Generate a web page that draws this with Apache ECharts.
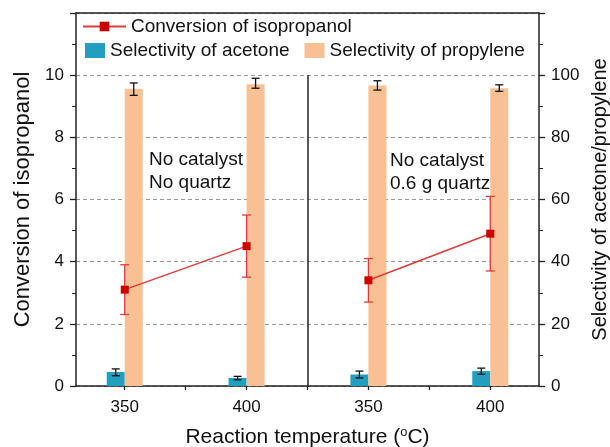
<!DOCTYPE html>
<html>
<head>
<meta charset="utf-8">
<script src="https://cdn.jsdelivr.net/npm/echarts@6/dist/echarts.min.js"></script>
<style>
  html, body { margin: 0; padding: 0; background: #fff; }
  #main { width: 610px; height: 447px; }
</style>
</head>
<body>
<div id="main"></div>
<script>
// x positions of the four runs and their temperature labels
var positions = [0, 1, 2, 3]
var tempLabels = ['350', '400', '350', '400']

// conversion of isopropanol (left axis) with error range
var conversion = [3.1, 4.5, 3.4, 4.9]
var conversionLow = [2.3, 3.5, 2.7, 3.7]
var conversionHigh = [3.9, 5.5, 4.1, 6.1]

// selectivities (right axis) with error range
var acetone = [4.5, 2.6, 3.7, 4.8]
var acetoneLow = [3.3, 2.0, 2.6, 3.8]
var acetoneHigh = [5.5, 3.1, 4.8, 5.75]
var propylene = [95.6, 97.1, 96.7, 95.8]
var propyleneLow = [93.5, 95.8, 95.2, 94.8]
var propyleneHigh = [97.5, 99.0, 98.2, 96.9]

var FONT = 'Liberation Sans'
var AXIS = '#222'

function pairs(ys, idx) {
    return idx.map(function (i) { return [positions[i], ys[i]] })
}
function errData(lo, hi) {
    return positions.map(function (x, i) { return [x, lo[i], hi[i]] })
}

// draws a vertical error bar with caps, shifted by dx pixels
function errorBar(dx, color, cap) {
    return function (params, api) {
        var x = api.value(0)
        var lo = api.coord([x, api.value(1)])
        var hi = api.coord([x, api.value(2)])
        var cx = lo[0] + dx
        var style = { stroke: color, lineWidth: 1.3 }
        return {
            type: 'group',
            children: [
                { type: 'line', shape: { x1: cx, y1: lo[1], x2: cx, y2: hi[1] }, style: style },
                { type: 'line', shape: { x1: cx - cap, y1: lo[1], x2: cx + cap, y2: lo[1] }, style: style },
                { type: 'line', shape: { x1: cx - cap, y1: hi[1], x2: cx + cap, y2: hi[1] }, style: style }
            ]
        }
    }
}

var chart = echarts.init(document.getElementById('main'))

chart.setOption({
    animation: false,
    textStyle: { fontFamily: FONT },
    grid: { left: 76, right: 71, top: 13, bottom: 61, outerBoundsMode: 'none', containLabel: false },
    legend: [
        {
            data: ['Conversion of isopropanol'],
            left: 82, top: 17, padding: 0,
            itemWidth: 43, itemHeight: 12,
            textStyle: { fontSize: 19, color: '#111', fontFamily: FONT }
        },
        {
            data: ['Selectivity of acetone', 'Selectivity of propylene'],
            left: 85, top: 41, padding: 0,
            icon: 'rect',
            itemWidth: 20, itemHeight: 15, itemGap: 15,
            textStyle: { fontSize: 19, color: '#111', fontFamily: FONT }
        }
    ],
    xAxis: [
        {
            type: 'value', min: -0.4, max: 3.4,
            name: '{a|Reaction temperature (}{s|o}{a|C)}',
            nameLocation: 'middle', nameGap: 40,
            nameTextStyle: {
                rich: {
                    a: { fontSize: 21, color: '#111', fontFamily: FONT },
                    s: { fontSize: 13, color: '#111', fontFamily: FONT, verticalAlign: 'top', padding: [0, 0, 10, 0] }
                }
            },
            axisLine: { lineStyle: { color: AXIS, width: 1.5 } },
            axisTick: { show: true, customValues: [0, 0.5, 1, 1.5, 2, 2.5, 3], length: 4, lineStyle: { color: AXIS, width: 1.3 } },
            axisLabel: {
                customValues: [0, 1, 2, 3],
                formatter: function (v) { return tempLabels[Math.round(v)] },
                fontSize: 17, color: '#111', margin: 13
            },
            splitLine: { show: false }
        },
        {
            type: 'value', min: -0.4, max: 3.4, position: 'top',
            axisLine: { onZero: false, lineStyle: { color: AXIS, width: 1.5 } },
            axisTick: { show: false }, axisLabel: { show: false }, splitLine: { show: false }
        }
    ],
    yAxis: [
        {
            type: 'value', min: 0, max: 12, interval: 2,
            name: 'Conversion of isopropanol',
            nameLocation: 'middle', nameGap: 42, nameRotate: 90,
            nameTextStyle: { fontSize: 22, color: '#111' },
            axisLine: { show: true, onZero: false, lineStyle: { color: AXIS, width: 1.5 } },
            axisTick: { show: true, length: 6, lineStyle: { color: AXIS, width: 1.3 } },
            minorTick: { show: true, splitNumber: 2, length: 4, lineStyle: { color: AXIS } },
            axisLabel: { fontSize: 17, color: '#111', margin: 12, showMaxLabel: false },
            splitLine: { show: true, lineStyle: { color: '#999', type: [4, 3], width: 1 } }
        },
        {
            type: 'value', min: 0, max: 120, interval: 20, position: 'right',
            name: 'Selectivity of acetone/propylene',
            nameLocation: 'middle', nameGap: 51, nameRotate: 90,
            nameTextStyle: { fontSize: 20, color: '#111' },
            axisLine: { show: true, onZero: false, lineStyle: { color: AXIS, width: 1.5 } },
            axisTick: { show: true, length: 6, lineStyle: { color: AXIS, width: 1.3 } },
            minorTick: { show: true, splitNumber: 2, length: 4, lineStyle: { color: AXIS } },
            axisLabel: { fontSize: 17, color: '#111', margin: 12, showMaxLabel: false },
            splitLine: { show: false }
        }
    ],
    graphic: [
        { type: 'text', left: 149, top: 148, z: 100, style: { text: 'No catalyst\nNo quartz', fontSize: 19, lineHeight: 23, fill: '#111', fontFamily: FONT } },
        { type: 'text', left: 390, top: 149, z: 100, style: { text: 'No catalyst\n0.6 g quartz', fontSize: 19, lineHeight: 23, fill: '#111', fontFamily: FONT } }
    ],
    series: [
        {
            name: 'Selectivity of acetone', type: 'bar', yAxisIndex: 1,
            barWidth: 18, barGap: '0%',
            itemStyle: { color: '#229fbf' },
            data: pairs(acetone, [0, 1, 2, 3])
        },
        {
            name: 'Selectivity of propylene', type: 'bar', yAxisIndex: 1,
            barWidth: 18, barGap: '0%',
            itemStyle: { color: '#f8c093' },
            data: pairs(propylene, [0, 1, 2, 3])
        },
        {
            type: 'custom', yAxisIndex: 1, z: 5,
            renderItem: errorBar(-9, '#111', 4),
            data: errData(acetoneLow, acetoneHigh)
        },
        {
            type: 'custom', yAxisIndex: 1, z: 5,
            renderItem: errorBar(9, '#111', 4),
            data: errData(propyleneLow, propyleneHigh)
        },
        {
            type: 'custom', yAxisIndex: 0, z: 6,
            renderItem: errorBar(0, '#e03a3a', 4.5),
            data: errData(conversionLow, conversionHigh)
        },
        {
            name: 'Conversion of isopropanol', type: 'line', yAxisIndex: 0, z: 7,
            symbol: 'rect', symbolSize: 8,
            lineStyle: { color: '#e03a3a', width: 1.5 },
            itemStyle: { color: '#cc0000' },
            data: pairs(conversion, [0, 1]),
            markLine: {
                silent: true, symbol: 'none', label: { show: false },
                lineStyle: { color: AXIS, type: 'solid', width: 1.5 },
                data: [[{ coord: [1.5, 10] }, { coord: [1.5, 0] }]]
            }
        },
        {
            name: 'Conversion of isopropanol', type: 'line', yAxisIndex: 0, z: 7,
            symbol: 'rect', symbolSize: 8,
            lineStyle: { color: '#e03a3a', width: 1.5 },
            itemStyle: { color: '#cc0000' },
            data: pairs(conversion, [2, 3])
        }
    ]
})
</script>
</body>
</html>
